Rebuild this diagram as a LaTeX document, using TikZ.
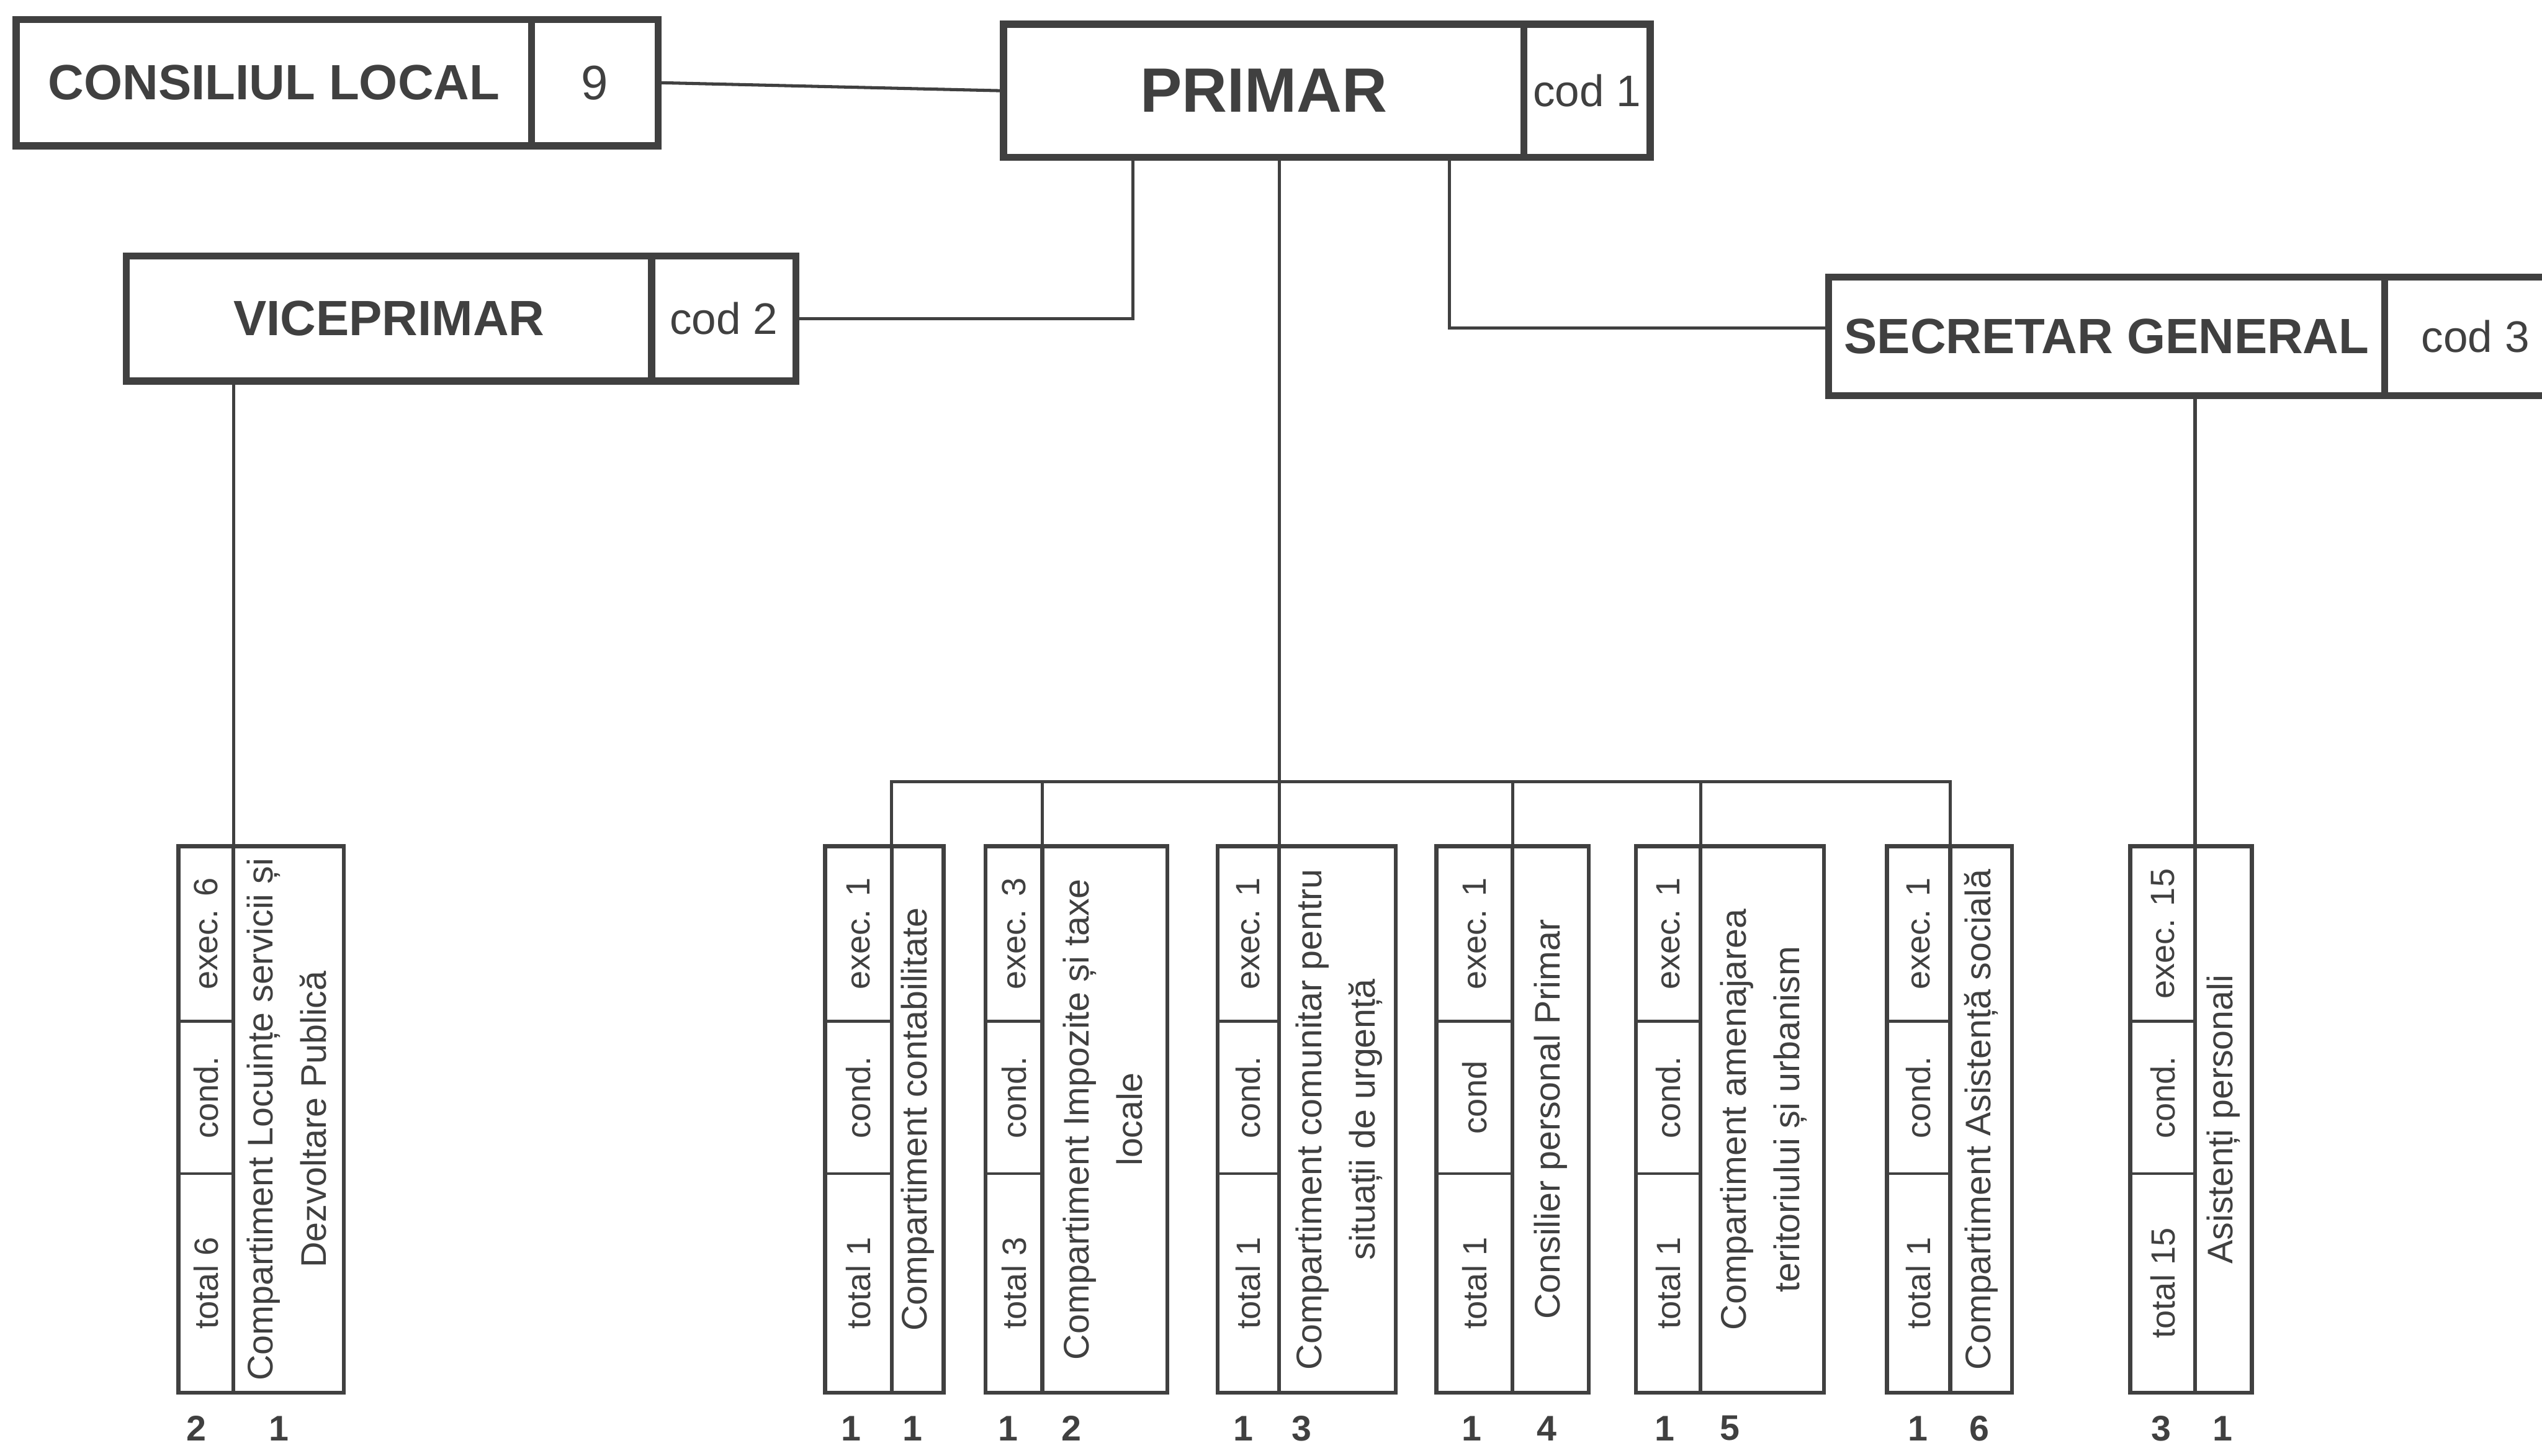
\documentclass[tikz,border=0pt]{standalone}
\usepackage{fontspec}
\setmainfont{Liberation Sans}
\usepackage{graphicx}
\usetikzlibrary{positioning}
\definecolor{ink}{gray}{0.25}

\begin{document}
\begin{tikzpicture}[x=0.02cm, y=-0.02cm, color=ink,
  headbox/.style={draw, line width=2.5pt, inner sep=0pt, outer sep=0pt, anchor=north west},
  cell/.style={draw, line width=1pt, inner sep=0pt, outer sep=0pt, font=\fontsize{11.8}{14}\selectfont},
  namecell/.style={cell, font=\fontsize{12.5}{18.8}\selectfont},
  outer/.style={line width=1.4pt},
  link/.style={line width=1.1pt},
  num/.style={font=\fontsize{12.5}{15}\selectfont\bfseries}]
\useasboundingbox (0,0) rectangle (1568,898);
\fill[white] (0,0) rectangle (1568,898);

% conducere
\node[headbox, minimum width=6.36cm, minimum height=1.56cm, font=\fontsize{17.4}{20}\selectfont\bfseries] (consiliu) at (10,12) {CONSILIUL LOCAL};
\node[headbox, minimum width=1.56cm, minimum height=1.56cm, font=\fontsize{17}{20}\selectfont] (consiliunr) at (consiliu.north east) {9};
\node[headbox, minimum width=6.42cm, minimum height=1.64cm, font=\fontsize{22}{26}\selectfont\bfseries] (primar) at (619,15) {PRIMAR};
\node[headbox, minimum width=1.56cm, minimum height=1.64cm, font=\fontsize{15.5}{18}\selectfont] (primarcod) at (primar.north east) {cod 1};
\node[headbox, minimum width=6.48cm, minimum height=1.54cm, font=\fontsize{17.4}{20}\selectfont\bfseries] (vice) at (78,158) {VICEPRIMAR};
\node[headbox, minimum width=1.78cm, minimum height=1.54cm, font=\fontsize{15.5}{18}\selectfont] (vicecod) at (vice.north east) {cod 2};
\node[headbox, minimum width=6.86cm, minimum height=1.46cm, font=\fontsize{17.4}{20}\selectfont\bfseries] (secretar) at (1128,171) {SECRETAR GENERAL};
\node[headbox, minimum width=2.24cm, minimum height=1.46cm, font=\fontsize{15.5}{18}\selectfont] (secretarcod) at (secretar.north east) {cod 3};

% Locuinte
\node[cell, minimum width=0.68cm, minimum height=2.16cm, anchor=north west] (e0) at (110,522) {\rotatebox{90}{exec. 6}};
\node[cell, minimum width=0.68cm, minimum height=1.88cm, below=0pt of e0] (c0) {\rotatebox{90}{cond.}};
\node[cell, minimum width=0.68cm, minimum height=2.70cm, below=0pt of c0] (t0) {\rotatebox{90}{total 6}};
\node[namecell, minimum width=1.36cm, minimum height=6.74cm, anchor=north west] (n0) at (e0.north east) {\rotatebox{90}{\begin{tabular}{@{}c@{}}Compartiment Locuințe servicii și\\Dezvoltare Publică\end{tabular}}};
\draw[outer] (e0.north west) rectangle (n0.south east) (n0.north west) -- (n0.south west);
\node[num] (l0) at (121,881) {2};
\node[num] (r0) at (172,881) {1};

% contabilitate
\node[cell, minimum width=0.82cm, minimum height=2.16cm, anchor=north west] (eA) at (509,522) {\rotatebox{90}{exec. 1}};
\node[cell, minimum width=0.82cm, minimum height=1.88cm, below=0pt of eA] (cA) {\rotatebox{90}{cond.}};
\node[cell, minimum width=0.82cm, minimum height=2.70cm, below=0pt of cA] (tA) {\rotatebox{90}{total 1}};
\node[namecell, minimum width=0.64cm, minimum height=6.74cm, anchor=north west] (nA) at (eA.north east) {\rotatebox{90}{Compartiment contabilitate}};
\draw[outer] (eA.north west) rectangle (nA.south east) (nA.north west) -- (nA.south west);
\node[num] (lA) at (525,881) {1};
\node[num] (rA) at (563,881) {1};

% impozite
\node[cell, minimum width=0.70cm, minimum height=2.16cm, anchor=north west] (eB) at (608,522) {\rotatebox{90}{exec. 3}};
\node[cell, minimum width=0.70cm, minimum height=1.88cm, below=0pt of eB] (cB) {\rotatebox{90}{cond.}};
\node[cell, minimum width=0.70cm, minimum height=2.70cm, below=0pt of cB] (tB) {\rotatebox{90}{total 3}};
\node[namecell, minimum width=1.54cm, minimum height=6.74cm, anchor=north west] (nB) at (eB.north east) {\rotatebox{90}{\begin{tabular}{@{}c@{}}Compartiment Impozite și taxe\\locale\end{tabular}}};
\draw[outer] (eB.north west) rectangle (nB.south east) (nB.north west) -- (nB.south west);
\node[num] (lB) at (622,881) {1};
\node[num] (rB) at (661,881) {2};

% situatii de urgenta
\node[cell, minimum width=0.76cm, minimum height=2.16cm, anchor=north west] (eC) at (751,522) {\rotatebox{90}{exec. 1}};
\node[cell, minimum width=0.76cm, minimum height=1.88cm, below=0pt of eC] (cC) {\rotatebox{90}{cond.}};
\node[cell, minimum width=0.76cm, minimum height=2.70cm, below=0pt of cC] (tC) {\rotatebox{90}{total 1}};
\node[namecell, minimum width=1.44cm, minimum height=6.74cm, anchor=north west] (nC) at (eC.north east) {\rotatebox{90}{\begin{tabular}{@{}c@{}}Compartiment comunitar pentru\\situații de urgență\end{tabular}}};
\draw[outer] (eC.north west) rectangle (nC.south east) (nC.north west) -- (nC.south west);
\node[num] (lC) at (767,881) {1};
\node[num] (rC) at (803,881) {3};

% consilier
\node[cell, minimum width=0.94cm, minimum height=2.16cm, anchor=north west] (eD) at (886,522) {\rotatebox{90}{exec. 1}};
\node[cell, minimum width=0.94cm, minimum height=1.88cm, below=0pt of eD] (cD) {\rotatebox{90}{cond}};
\node[cell, minimum width=0.94cm, minimum height=2.70cm, below=0pt of cD] (tD) {\rotatebox{90}{total 1}};
\node[namecell, minimum width=0.94cm, minimum height=6.74cm, anchor=north west] (nD) at (eD.north east) {\rotatebox{90}{Consilier personal Primar}};
\draw[outer] (eD.north west) rectangle (nD.south east) (nD.north west) -- (nD.south west);
\node[num] (lD) at (908,881) {1};
\node[num] (rD) at (954,881) {4};

% urbanism
\node[cell, minimum width=0.80cm, minimum height=2.16cm, anchor=north west] (eE) at (1009,522) {\rotatebox{90}{exec. 1}};
\node[cell, minimum width=0.80cm, minimum height=1.88cm, below=0pt of eE] (cE) {\rotatebox{90}{cond.}};
\node[cell, minimum width=0.80cm, minimum height=2.70cm, below=0pt of cE] (tE) {\rotatebox{90}{total 1}};
\node[namecell, minimum width=1.52cm, minimum height=6.74cm, anchor=north west] (nE) at (eE.north east) {\rotatebox{90}{\begin{tabular}{@{}c@{}}Compartiment amenajarea\\teritoriului și urbanism\end{tabular}}};
\draw[outer] (eE.north west) rectangle (nE.south east) (nE.north west) -- (nE.south west);
\node[num] (lE) at (1027,881) {1};
\node[num] (rE) at (1067,881) {5};

% asistenta sociala
\node[cell, minimum width=0.78cm, minimum height=2.16cm, anchor=north west] (eF) at (1164,522) {\rotatebox{90}{exec. 1}};
\node[cell, minimum width=0.78cm, minimum height=1.88cm, below=0pt of eF] (cF) {\rotatebox{90}{cond.}};
\node[cell, minimum width=0.78cm, minimum height=2.70cm, below=0pt of cF] (tF) {\rotatebox{90}{total 1}};
\node[namecell, minimum width=0.76cm, minimum height=6.74cm, anchor=north west] (nF) at (eF.north east) {\rotatebox{90}{Compartiment Asistență socială}};
\draw[outer] (eF.north west) rectangle (nF.south east) (nF.north west) -- (nF.south west);
\node[num] (lF) at (1183,881) {1};
\node[num] (rF) at (1221,881) {6};

% asistenti personali
\node[cell, minimum width=0.80cm, minimum height=2.16cm, anchor=north west] (eG) at (1314,522) {\rotatebox{90}{exec. 15}};
\node[cell, minimum width=0.80cm, minimum height=1.88cm, below=0pt of eG] (cG) {\rotatebox{90}{cond.}};
\node[cell, minimum width=0.80cm, minimum height=2.70cm, below=0pt of cG] (tG) {\rotatebox{90}{total 15}};
\node[namecell, minimum width=0.70cm, minimum height=6.74cm, anchor=north west] (nG) at (eG.north east) {\rotatebox{90}{Asistenți personali}};
\draw[outer] (eG.north west) rectangle (nG.south east) (nG.north west) -- (nG.south west);
\node[num] (lG) at (1333,881) {3};
\node[num] (rG) at (1371,881) {1};

% legaturi
\coordinate (bus) at (553,482);
\draw[link] (consiliunr.east) -- (primar.west);
\draw[link] ([xshift=1.6cm]primar.south west) |- (vicecod.east);
\draw[link] ([xshift=5.5cm]primar.south west) |- ([yshift=0.1cm]secretar.west);
\draw[link] (primar.south -| nC.north west) -- (nC.north west);
\draw[link] (nA.north west) |- (nF.north west |- bus) -- (nF.north west);
\draw[link] (nB.north west) -- (nB.north west |- bus);
\draw[link] (nD.north west) -- (nD.north west |- bus);
\draw[link] (nE.north west) -- (nE.north west |- bus);
\draw[link] (vice.south -| n0.north west) -- (n0.north west);
\draw[link] (secretar.south -| nG.north west) -- (nG.north west);
\end{tikzpicture}
\end{document}
